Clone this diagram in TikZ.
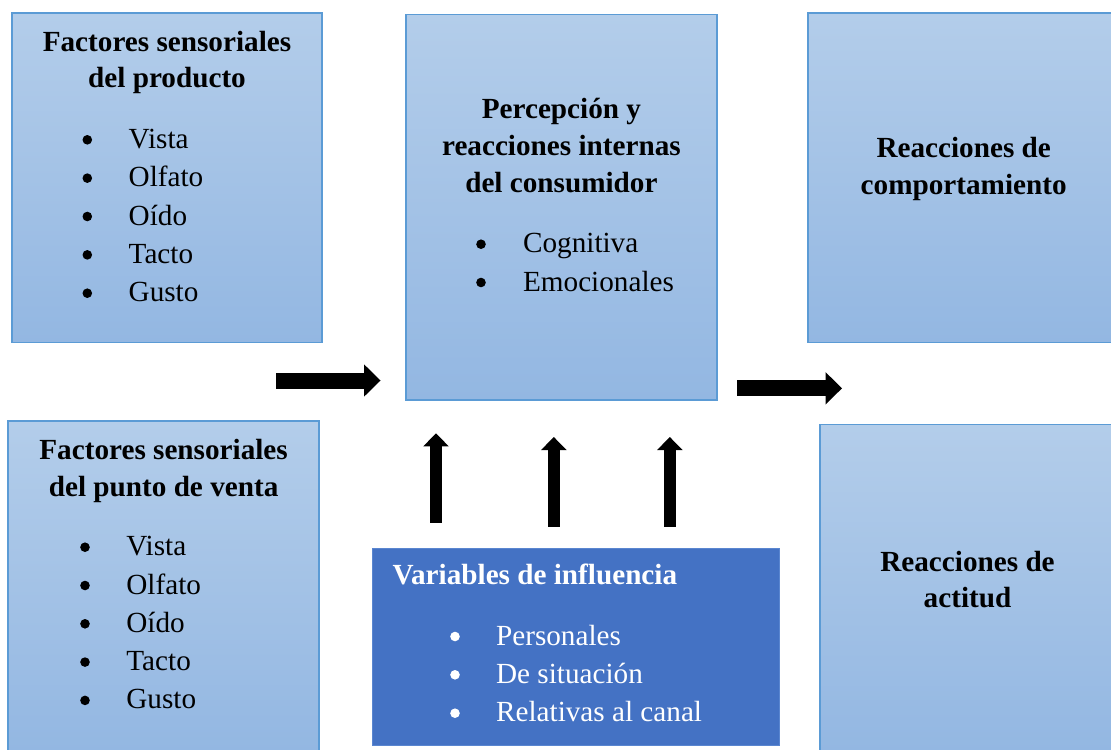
\documentclass[tikz,border=0pt]{standalone}
\usepackage{fontspec}
\setmainfont{Liberation Serif}
\usetikzlibrary{fit,arrows.meta}
\definecolor{topc}{HTML}{B3CDEA}
\definecolor{botc}{HTML}{93B7E2}
\definecolor{bordc}{HTML}{5B9BD5}
\definecolor{varc}{HTML}{4472C4}
\definecolor{varb}{HTML}{5A86D0}
\begin{document}
\begin{tikzpicture}[x=0.5pt,y=-0.5pt,
  box/.style={draw=bordc, line width=0.75pt, top color=topc, bottom color=botc, inner sep=0pt},
  vbox/.style={draw=varb, line width=0.5pt, fill=varc, inner sep=0pt},
  ttl/.style={font=\bfseries\fontsize{14.6}{18}\selectfont, anchor=base, inner sep=0pt},
  ttlw/.style={font=\bfseries\fontsize{14.6}{18}\selectfont, anchor=base west, inner sep=0pt, text=white},
  itm/.style={font=\fontsize{14.6}{18}\selectfont, anchor=base west, inner sep=0pt},
  bul/.style={circle, fill=black, inner sep=0pt, minimum size=4.8pt},
  harrow/.style={line width=8pt, -{Triangle[length=8.25pt,width=16.2pt,line width=0pt]}},
  varrow/.style={line width=6.3pt, -{Triangle[length=6.5pt,width=12.7pt,line width=0pt]}}
]
\useasboundingbox (0,0) rectangle (1111,749);
\clip (0,0) rectangle (1111,749);

% boxes
\node[box, fit={(12,13) (322,342.5)}] (b1) {};
\node[box, fit={(8,421) (319,752)}] (b2) {};
\node[box, fit={(406,14.5) (717,400)}] (bc) {};
\node[box, fit={(808,13) (1115,342.5)}] (br1) {};
\node[box, fit={(820,424.5) (1115,752)}] (br2) {};
\node[vbox, fit={(372.5,548.5) (779,745.5)}] (bv) {};

% box 1 text
\node[ttl] (t1a) at (167,51.7) {Factores sensoriales};
\node[ttl] (t1b) at (167,87.5) {del producto};
\foreach \y/\w [count=\i] in {148.3/Vista,186.65/Olfato,225/Oído,263.35/Tacto,301.7/Gusto}{
  \node[bul] (b1bul\i) at (87.3,\y-8.5) {};
  \node[itm] (b1itm\i) at (128.3,\y) {\w};
}

% box 2 text
\node[ttl] (t2a) at (163.6,459.3) {Factores sensoriales};
\node[ttl] (t2b) at (163.6,496) {del punto de venta};
\foreach \y/\w [count=\i] in {555.7/Vista,594/Olfato,632.3/Oído,670.6/Tacto,708.9/Gusto}{
  \node[bul] (b2bul\i) at (85,\y-8.5) {};
  \node[itm] (b2itm\i) at (126,\y) {\w};
}

% center box text
\node[ttl] (tca) at (561.4,118.5) {Percepción y};
\node[ttl] (tcb) at (561.4,155.5) {reacciones internas};
\node[ttl] (tcc) at (561.4,192.5) {del consumidor};
\node[bul] (bcbul1) at (481,252.7-8.5) {};
\node[itm] (bcitm1) at (522.7,252.7) {Cognitiva};
\node[bul] (bcbul2) at (481,291-8.5) {};
\node[itm] (bcitm2) at (522.7,291) {Emocionales};

% right boxes text
\node[ttl] (tr1a) at (963.7,157.3) {Reacciones de};
\node[ttl] (tr1b) at (963.7,194.3) {comportamiento};
\node[ttl] (tr2a) at (967.5,571.3) {Reacciones de};
\node[ttl] (tr2b) at (967.5,607.3) {actitud};

% variables box text
\node[ttlw] (tva) at (392.3,584.3) {Variables de influencia};
\foreach \y/\w [count=\i] in {645/Personales,683.3/De situación,721.7/Relativas al canal}{
  \node[bul,fill=white] (bvbul\i) at (455,\y-8.5) {};
  \node[itm,text=white] (bvitm\i) at (495.7,\y) {\w};
}

% arrows
\coordinate (h1s) at (276,380.5);
\coordinate (h1e) at (380.5,380.5);
\coordinate (h2s) at (737,388.3);
\coordinate (h2e) at (842,388.3);
\coordinate (v1s) at (436,522.7);
\coordinate (v1e) at (436,433.3);
\coordinate (v2s) at (553.8,526.7);
\coordinate (v2e) at (553.8,437);
\coordinate (v3s) at (669.8,526.7);
\coordinate (v3e) at (669.8,437);
\draw[harrow] (h1s) -- (h1e);
\draw[harrow] (h2s) -- (h2e);
\draw[varrow] (v1s) -- (v1e);
\draw[varrow] (v2s) -- (v2e);
\draw[varrow] (v3s) -- (v3e);
\end{tikzpicture}
\end{document}
